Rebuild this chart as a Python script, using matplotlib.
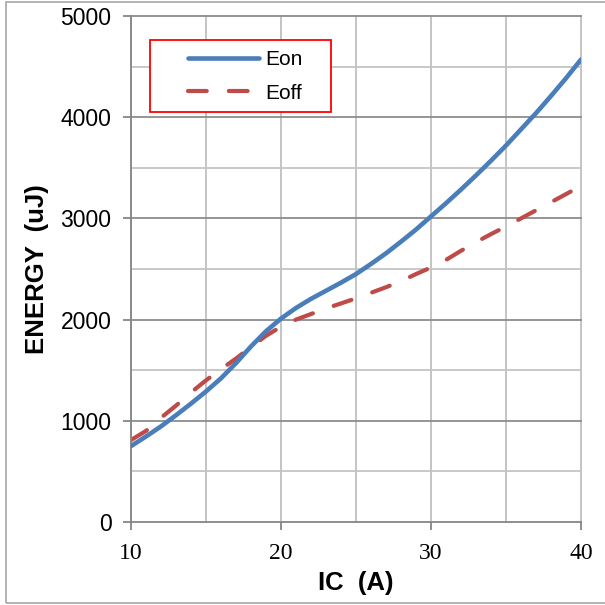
import matplotlib
matplotlib.use("Agg")
import matplotlib.pyplot as plt
from matplotlib.patches import Rectangle

ic = [10, 11, 12, 13, 14, 15, 16, 17, 18, 19, 20, 21, 22, 23, 24, 25,
      26, 27, 28, 29, 30, 31, 32, 33, 34, 35, 36, 37, 38, 39, 40]
eon = [750, 845, 945, 1055, 1170, 1290, 1420, 1570, 1735, 1885, 2010, 2115,
       2205, 2285, 2365, 2450, 2550, 2655, 2770, 2890, 3020, 3150, 3285, 3425,
       3570, 3720, 3880, 4040, 4210, 4385, 4570]
eoff = [810, 900, 1030, 1150, 1280, 1400, 1510, 1615, 1730, 1840, 1930, 2000,
        2055, 2110, 2160, 2210, 2265, 2320, 2380, 2450, 2515, 2590, 2680, 2765,
        2845, 2920, 3000, 3080, 3160, 3240, 3320]
x_ticks = [10, 20, 30, 40]
y_ticks = [0, 1000, 2000, 3000, 4000, 5000]

W = H = 605
fig = plt.figure(figsize=(6.05, 6.05), dpi=100)
fig.patch.set_facecolor("white")
fig.patches.append(Rectangle((6 / W, 2 / H), 1.2, (604 - 3) / H, transform=fig.transFigure,
                             fill=False, edgecolor="#a6a6a6", linewidth=1.2))

ax = fig.add_axes([131 / W, (605 - 522) / H, (581 - 131) / W, (522 - 16) / H])
ax.set_xlim(10, 40)
ax.set_ylim(0, 5000)

ax.set_xticks(x_ticks)
ax.set_yticks(y_ticks)
ax.grid(False)
for xv in range(10, 41, 5):
    ax.axvline(xv, color="#bfbfbf", lw=1.3, zorder=0, clip_on=False)
for yv in range(500, 5001, 500):
    c = "#8c8c8c" if yv % 1000 == 0 else "#c4c4c4"
    ax.axhline(yv, color=c, lw=1.3, zorder=0.5, clip_on=False)

for s in ["top", "right"]:
    ax.spines[s].set_visible(False)
for s in ["left", "bottom"]:
    ax.spines[s].set_color("#868686")
    ax.spines[s].set_linewidth(1.3)

ax.tick_params(axis="both", which="major", length=6, width=1.3, color="#868686", direction="out")
ax.tick_params(axis="x", pad=9)
ax.tick_params(axis="y", pad=8)
for lab in ax.get_xticklabels():
    lab.set_fontfamily("Liberation Serif")
    lab.set_fontsize(17)
for lab in ax.get_yticklabels():
    lab.set_fontfamily("Liberation Sans")
    lab.set_fontsize(16.5)

ax.plot(ic, eon, color="#4a7ebb", lw=3.3, solid_capstyle="round", solid_joinstyle="round",
        label="Eon", zorder=3)
ax.plot(ic, eoff, color="#be4b48", lw=3.0, dashes=(4.5, 5.3), dash_capstyle="round",
        dash_joinstyle="round", label="Eoff", zorder=2)

ax.set_xlabel("IC  (A)", fontfamily="Liberation Sans", fontweight="bold", fontsize=18.5)
ax.xaxis.set_label_coords(0.5, (522 - 583) / (522 - 16), transform=ax.transAxes)
ax.set_ylabel("ENERGY  (uJ)", fontfamily="Liberation Sans", fontweight="bold", fontsize=18.5)
ax.yaxis.set_label_coords((37 - 131) / (581 - 131), 0.5, transform=ax.transAxes)
ax.xaxis.label.set_va("center")
ax.yaxis.label.set_va("center")

# legend box (frame drawn separately to match the reference's wide left padding)
def ax_x(px):
    return (px - 131) / 450

def ax_y(py):
    return (522 - py) / 506

ax.add_patch(Rectangle((ax_x(150), ax_y(112)), ax_x(331) - ax_x(150), ax_y(40) - ax_y(112),
                       transform=ax.transAxes, facecolor="white", edgecolor="#ff0000",
                       lw=1.3, zorder=5, clip_on=False))
leg = ax.legend(loc="upper left", bbox_to_anchor=(ax_x(188), ax_y(50)),
                prop={"family": "Liberation Sans", "size": 15}, frameon=False,
                handlelength=3.4, handletextpad=0.3, borderaxespad=0, labelspacing=0.7,
                borderpad=0)
leg.set_zorder(6)

fig.savefig("out.png", dpi=100, facecolor="white")
